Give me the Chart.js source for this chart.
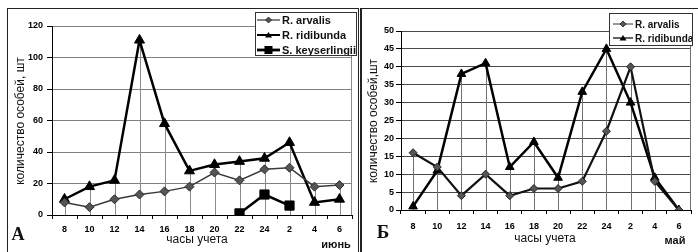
<!DOCTYPE html>
<html><head><meta charset="utf-8">
<script src="https://cdn.jsdelivr.net/npm/chart.js@4.4.1/dist/chart.umd.min.js"></script>
<style>
body{margin:0;width:698px;height:252px;overflow:hidden;background:#fff;position:relative;font-family:"Liberation Sans",Arial,sans-serif;}
canvas{position:absolute;top:0}
.t{position:absolute;white-space:nowrap;color:#111;transform:translate(-50%,-50%);line-height:1}
.rot{transform:translate(-50%,-50%) rotate(-90deg)}
.frame{position:absolute;border-color:#222;border-style:solid;}
.legend{position:absolute;background:#fff;border:1px solid #333;overflow:hidden;font-weight:bold;color:#111}
.legend .row{position:absolute;left:0;display:flex;align-items:center;white-space:nowrap}
.legend svg{display:block;margin-right:2px}
</style>
</head><body>
<canvas id="ca" width="360" height="252" style="left:0;width:360px;height:252px"></canvas>
<canvas id="cb" width="338" height="252" style="left:360px;width:338px;height:252px"></canvas>
<div class="frame" style="left:7px;top:8px;width:350px;height:260px;border-width:1px 1px 0 1px"></div>
<div class="frame" style="left:360px;top:8px;width:360px;height:260px;border-width:1px 0 0 2px"></div>

<div class="t rot" style="left:20px;top:121px;font-size:12px">количество особей, шт</div>
<div class="t rot" style="left:373px;top:121px;font-size:12px">количество особей,шт</div>
<div class="t" style="left:197px;top:239px;font-size:12px">часы учета</div>
<div class="t" style="left:545px;top:238px;font-size:12px">часы учета</div>
<div class="t" style="left:336px;top:244px;font-size:11px;font-weight:bold">июнь</div>
<div class="t" style="left:675px;top:240px;font-size:11px;font-weight:bold">май</div>
<div class="t" style="left:18px;top:234px;font-size:18px;font-weight:bold;font-family:'Liberation Serif','DejaVu Serif',serif">А</div>
<div class="t" style="left:383px;top:231px;font-size:19px;font-weight:bold;font-family:'Liberation Serif','DejaVu Serif',serif">Б</div>

<div id="legA" class="legend" style="left:255px;top:12px;width:100px;height:42px;font-size:11px"></div>
<div id="legB" class="legend" style="left:609px;top:13px;width:82px;height:31px;font-size:10px"></div>

<script>
// ---- data ----
const categories = ['8','10','12','14','16','18','20','22','24','2','4','6'];
const seriesNamesA = ['R. arvalis','R. ridibunda','S. keyserlingii'];
const aArvalis = [8,5,10,13,15,18,27,22,29,30,18,19];
const aRidibunda = [10,18,22,111,58,28,32,34,36,46,8,10];
const aKeyserlingii = [null,null,null,null,null,null,null,1,13,6,null,null];
const yTicksA = [0,20,40,60,80,100,120];

const seriesNamesB = ['R. arvalis','R. ridibunda'];
const bArvalis = [16,12,4,10,4,6,6,8,22,40,8,0];
const bRidibunda = [1,11,38,41,12,19,9,33,45,30,9,0];
const yTicksB = [0,5,10,15,20,25,30,35,40,45,50];

const FONT = '"Liberation Sans", Arial, sans-serif';

const dropLines = {
  id:'dropLines',
  beforeDatasetsDraw(chart, args, o){
    const {ctx, chartArea, scales:{x,y}} = chart;
    ctx.save();
    ctx.strokeStyle = o.color; ctx.lineWidth = 1;
    const n = chart.data.labels.length;
    for (let i=0;i<n;i++){
      let m = null;
      chart.data.datasets.forEach(d=>{const v=d.data[i]; if(v!=null && (m==null||v>m)) m=v;});
      if (m==null || m<=0) continue;
      const px = Math.round(x.getPixelForValue(i))+0.5;
      ctx.beginPath(); ctx.moveTo(px, y.getPixelForValue(m)); ctx.lineTo(px, y.getPixelForValue(0)); ctx.stroke();
    }
    ctx.strokeStyle = o.border;
    const rx = Math.round(chartArea.right)-0.5;
    ctx.beginPath(); ctx.moveTo(rx, chartArea.top); ctx.lineTo(rx, chartArea.bottom); ctx.stroke();
    ctx.restore();
  }
};

function makeChart(id, datasets, ticks, geo){
  return new Chart(document.getElementById(id), {
    type:'line',
    data:{labels:categories, datasets},
    plugins:[dropLines],
    options:{
      responsive:false, animation:false, devicePixelRatio:1,
      layout:{padding:{left:0, top:geo.top, right:geo.right, bottom:0}},
      plugins:{legend:{display:false}, tooltip:{enabled:false}, dropLines:{color:geo.drop, border:geo.drop}},
      scales:{
        x:{type:'category', offset:true,
           grid:{offset:true, drawOnChartArea:false, tickLength:4, tickColor:'#000'},
           border:{color:'#000', width:1},
           ticks:{color:'#000', font:{family:FONT, size:9, weight:'bold'}, padding:geo.xpad, maxRotation:0, autoSkip:false},
           afterFit(s){ s.height = geo.xh; }},
        y:{min:ticks[0], max:ticks[ticks.length-1],
           ticks:{stepSize:ticks[1]-ticks[0], color:'#000', font:{family:FONT, size:9, weight:'bold'}, padding:geo.ypad},
           grid:{color:geo.grid, tickLength:5, tickColor:'#000'},
           border:{color:'#000', width:1},
           afterFit(s){ s.width = geo.yw; }}
      }
    }
  });
}

const line = (label, data, o) => Object.assign({label, data, tension:0, spanGaps:false, fill:false, pointHoverRadius:o.pointRadius}, o);

makeChart('ca', [
  line(seriesNamesA[0], aArvalis, {borderColor:'#3a3a3a', borderWidth:1.5, pointStyle:'rectRot', pointRadius:4.5, pointBackgroundColor:'#555', pointBorderColor:'#2a2a2a', pointBorderWidth:1}),
  line(seriesNamesA[1], aRidibunda, {borderColor:'#000', borderWidth:2.5, pointStyle:'triangle', pointRadius:5.8, pointBackgroundColor:'#000', pointBorderColor:'#000', pointBorderWidth:1}),
  line(seriesNamesA[2], aKeyserlingii, {borderColor:'#000', borderWidth:2.5, pointStyle:'rect', pointRadius:6.5, pointBackgroundColor:'#000', pointBorderColor:'#000', pointBorderWidth:1})
], yTicksA, {top:26, right:8, yw:52, xh:37, xpad:5, ypad:4, grid:'#808080', drop:'#8a8a8a'});

makeChart('cb', [
  line(seriesNamesB[0], bArvalis, {borderColor:'#111', borderWidth:2.2, pointStyle:'rectRot', pointRadius:4, pointBackgroundColor:'#555', pointBorderColor:'#222', pointBorderWidth:1}),
  line(seriesNamesB[1], bRidibunda, {borderColor:'#000', borderWidth:2.5, pointStyle:'triangle', pointRadius:5, pointBackgroundColor:'#000', pointBorderColor:'#000', pointBorderWidth:1})
], yTicksB, {top:31, right:7, yw:41, xh:42, xpad:7, ypad:2, grid:'#4a4a4a', drop:'#707070'});

// legends (HTML text, symbols in SVG)
function sym(kind, w, lw, col){
  let m='';
  if(kind==='diamond') m=`<polygon points="${w/2-3},6 ${w/2},3 ${w/2+3},6 ${w/2},9" fill="#555" stroke="#222" stroke-width="0.8"/>`;
  if(kind==='triangle') m=`<polygon points="${w/2-3.5},8.5 ${w/2},3 ${w/2+3.5},8.5" fill="#000"/>`;
  if(kind==='square') m=`<rect x="${w/2-4}" y="2" width="8" height="8" fill="#000"/>`;
  return `<svg width="${w}" height="12"><line x1="0" y1="6" x2="${w}" y2="6" stroke="${col}" stroke-width="${lw}"/>${m}</svg>`;
}
function legend(id, names, specs, rowsY, w, left){
  const el=document.getElementById(id);
  names.forEach((n,i)=>{
    const r=document.createElement('div'); r.className='row';
    r.style.top=(rowsY[i]-6)+'px'; r.style.left=left+'px';
    r.innerHTML=sym(specs[i][0], w, specs[i][1], specs[i][2])+'<span>'+n+'</span>';
    el.appendChild(r);
  });
}
legend('legA', seriesNamesA, [['diamond',1.2,'#333'],['triangle',2,'#000'],['square',2.8,'#000']], [7,22,37], 23, 1);
legend('legB', seriesNamesB, [['diamond',1,'#333'],['triangle',1.2,'#000']], [10,24], 20, 3);
</script>
</body></html>
